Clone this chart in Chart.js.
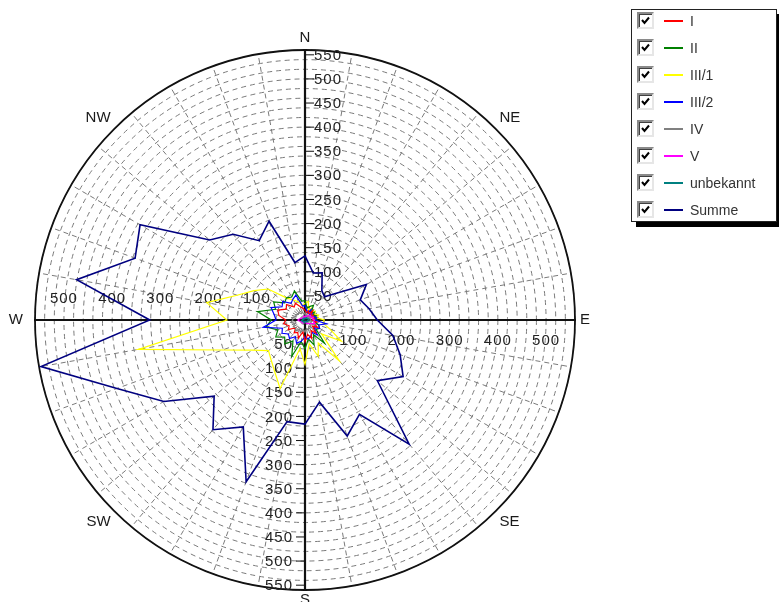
<!DOCTYPE html>
<html>
<head>
<meta charset="utf-8">
<title>Windrose</title>
<script src="https://cdn.jsdelivr.net/npm/chart.js@4.4.1/dist/chart.umd.min.js"></script>
<style>
  html, body { margin: 0; padding: 0; background: #fff; }
  #wrap { position: relative; width: 779px; height: 602px; overflow: hidden; }
  #rose { position: absolute; left: 0; top: 0; }
  #legend {
    position: absolute; left: 631px; top: 9px; width: 144px; height: 211px;
    border: 1px solid #222; background: #fff; box-shadow: 5px 5px 0 #000;
    font: 14px "Liberation Sans", Arial, sans-serif; color: #333;
  }
  .row { position: absolute; left: 0; width: 140px; height: 18px; }
  .cb {
    position: absolute; left: 5px; top: 0; width: 13px; height: 13px;
    border: 2px solid; border-color: #8a8a8a #e6e6e6 #e6e6e6 #8a8a8a;
    box-shadow: inset 1px 1px 0 #404040; background: #fff;
  }
  .cb svg { position: absolute; left: 2px; top: 2px; }
  .swatch { position: absolute; left: 32px; top: 8px; width: 19px; height: 2px; }
  .txt { position: absolute; left: 58px; top: 1px; line-height: 16px; white-space: nowrap; }
</style>
</head>
<body>
<div id="wrap">
  <canvas id="rose" width="779" height="602"></canvas>
  <div id="legend"></div>
</div>
<script>
// wind directions, 10 degree steps clockwise from north
const directions = ['0', '10', '20', '30', '40', '50', '60', '70', '80', '90', '100', '110',
  '120', '130', '140', '150', '160', '170', '180', '190', '200', '210', '220', '230',
  '240', '250', '260', '270', '280', '290', '300', '310', '320', '330', '340', '350'];

const seriesNames = ['I', 'II', 'III/1', 'III/2', 'IV', 'V', 'unbekannt', 'Summe'];
const seriesColors = ['#ff0000', '#008000', '#ffff00', '#0000ff', '#808080', '#ff00ff', '#008080', '#000080'];

const klasseI = [20, 15, 20, 15, 25, 15, 20, 15, 20, 15, 25, 20, 30, 20, 35, 25, 40, 30,
  45, 25, 40, 30, 35, 25, 40, 35, 45, 40, 55, 60, 45, 50, 35, 40, 30, 25];
const klasseII = [40, 25, 30, 35, 20, 25, 20, 25, 20, 25, 20, 30, 35, 30, 63, 35, 55, 40,
  60, 45, 80, 50, 65, 55, 70, 60, 82, 70, 100, 65, 75, 55, 60, 55, 64, 40];
const klasseIII1 = [35, 39, 22, 30, 25, 28, 22, 30, 25, 40, 38, 55, 87, 45, 110, 55, 80, 50,
  92, 60, 151, 125, 109, 99, 125, 182, 351, 162, 207, 150, 122, 100, 60, 48, 40, 30];
const klasseIII2 = [30, 20, 15, 25, 15, 20, 15, 20, 25, 20, 45, 30, 35, 25, 40, 30, 35, 40,
  35, 45, 51, 40, 50, 45, 55, 50, 88, 60, 65, 75, 55, 60, 45, 50, 55, 30];
const klasseIV = [15, 10, 12, 8, 12, 10, 15, 10, 12, 10, 15, 12, 18, 12, 20, 15, 22, 18,
  25, 20, 28, 22, 30, 25, 28, 22, 30, 25, 28, 20, 22, 18, 20, 15, 18, 12];
const klasseV = [8, 6, 8, 10, 12, 15, 12, 18, 15, 20, 18, 22, 15, 12, 10, 8, 6, 5,
  6, 5, 6, 5, 8, 6, 8, 10, 12, 15, 12, 10, 8, 6, 5, 6, 8, 6];
const unbekannt = [4, 3, 4, 5, 6, 5, 6, 8, 7, 8, 6, 5, 6, 5, 4, 3, 4, 3,
  4, 3, 5, 4, 5, 4, 6, 5, 7, 6, 5, 4, 5, 4, 3, 4, 3, 4];
const summe = [133, 99, 104, 70, 63, 87, 147, 122, 135, 150, 185, 210, 235, 196, 336, 226, 256, 173,
  216, 214, 357, 256, 297, 246, 338, 415, 556, 322, 481, 375, 395, 258, 232, 190, 218, 121];

// axis labels
const northSouthTicks = [50, 100, 150, 200, 250, 300, 350, 400, 450, 500, 550];
const eastWestTicks = [100, 200, 300, 400, 500];
const compassLabels = ['N', 'NE', 'E', 'SE', 'S', 'SW', 'W', 'NW'];

const seriesData = [klasseI, klasseII, klasseIII1, klasseIII2, klasseIV, klasseV, unbekannt, summe];
const drawOrder = [4, 6, 7, 5, 3, 2, 1, 8];

const roseAxes = {
  id: 'roseAxes',
  beforeDatasetsDraw(chart) {
    const r = chart.scales.r;
    const ctx = chart.ctx;
    const cx = r.xCenter, cy = r.yCenter, R = r.drawingArea;
    ctx.save();
    ctx.setLineDash([]);

    ctx.strokeStyle = '#111';
    ctx.lineWidth = 1.8;
    ctx.beginPath();
    ctx.arc(cx, cy, R, 0, Math.PI * 2);
    ctx.stroke();

    ctx.lineWidth = 2.2;
    ctx.beginPath();
    ctx.moveTo(cx - R - 1, cy); ctx.lineTo(cx + R + 1, cy);
    ctx.moveTo(cx, cy - R - 1); ctx.lineTo(cx, cy + R + 1);
    ctx.stroke();

    ctx.lineWidth = 1;
    ctx.fillStyle = '#222';
    ctx.font = '15px "Liberation Sans", Arial, sans-serif';
    ctx.letterSpacing = '1px';
    northSouthTicks.forEach(v => {
      const d = r.getDistanceFromCenterForValue(v);
      ctx.beginPath();
      ctx.moveTo(cx, cy - d); ctx.lineTo(cx + 9, cy - d);
      ctx.moveTo(cx, cy + d); ctx.lineTo(cx - 9, cy + d);
      ctx.stroke();
      ctx.textBaseline = 'middle';
      ctx.textAlign = 'left';
      ctx.fillText(String(v), cx + 9, cy - d + 1);
      ctx.textAlign = 'right';
      ctx.fillText(String(v), cx - 12, cy + d + 1);
    });
    eastWestTicks.forEach(v => {
      const d = r.getDistanceFromCenterForValue(v);
      ctx.textAlign = 'center';
      ctx.textBaseline = 'bottom';
      ctx.fillText(String(v), cx - d, cy - 14);
      ctx.textBaseline = 'top';
      ctx.fillText(String(v), cx + d, cy + 13);
    });

    ctx.letterSpacing = '0px';
    ctx.font = '15px "Liberation Sans", Arial, sans-serif';
    ctx.fillStyle = '#1a1a1a';
    compassLabels.forEach((lab, i) => {
      const a = i * Math.PI / 4;
      const pad = lab === 'W' ? 12 : (lab === 'S' ? 2 : 5);
      const dx = Math.sin(a), dy = -Math.cos(a);
      const x = cx + (R + pad) * dx, y = cy + (R + pad) * dy;
      ctx.textAlign = dx > 0.01 ? 'left' : (dx < -0.01 ? 'right' : 'center');
      ctx.textBaseline = dy < -0.01 ? 'bottom' : (dy > 0.01 ? 'top' : 'middle');
      ctx.fillText(lab, x, y);
    });
    ctx.restore();
  }
};

new Chart(document.getElementById('rose'), {
  type: 'radar',
  data: {
    labels: directions,
    datasets: seriesNames.map((name, i) => ({
      label: name,
      data: seriesData[i],
      borderColor: seriesColors[i],
      borderWidth: name === 'Summe' ? 1.6 : 1.2,
      fill: false,
      pointRadius: 0,
      pointHoverRadius: 0,
      tension: 0,
      order: drawOrder[i]
    }))
  },
  options: {
    responsive: false,
    animation: false,
    layout: { padding: { left: 35, top: 50, right: 204, bottom: 12 } },
    plugins: { legend: { display: false }, tooltip: { enabled: false } },
    scales: {
      r: {
        min: 0,
        max: 560,
        ticks: { display: false, stepSize: 20 },
        grid: { circular: true, color: '#7a7a7a', lineWidth: 1 },
        border: { dash: [5, 4] },
        angleLines: { display: true, color: '#7a7a7a', lineWidth: 1, borderDash: [5, 4] },
        pointLabels: { display: false }
      }
    }
  },
  plugins: [roseAxes]
});

// legend with check boxes
const legend = document.getElementById('legend');
seriesNames.forEach((name, i) => {
  const row = document.createElement('div');
  row.className = 'row';
  row.style.top = (2 + i * 27) + 'px';
  const swatch = document.createElement('span');
  swatch.className = 'swatch';
  swatch.style.backgroundColor = seriesColors[i];
  row.innerHTML = `
    <span class="cb"><svg width="9" height="9" viewBox="0 0 9 9"><polyline points="1,4 3.5,7 8,1.5" fill="none" stroke="#000" stroke-width="2"/></svg></span>
    <span class="txt">${name}</span>`;
  row.appendChild(swatch);
  legend.appendChild(row);
});
</script>
</body>
</html>
